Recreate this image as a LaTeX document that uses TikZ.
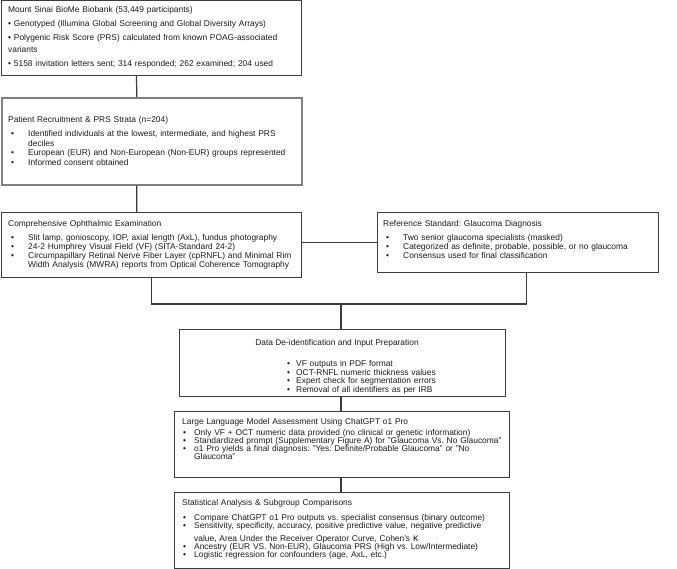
\documentclass[tikz,border=0pt]{standalone}
\usepackage{fontspec}
\setmainfont{Liberation Sans}
\definecolor{boxline}{HTML}{3C3C3C}
\definecolor{ink}{HTML}{1A1A1A}
\newlength{\bulx}
\newlength{\itmind}
\newcommand{\fs}[1]{\fontsize{8.4}{#1}\selectfont\lineskiplimit=-20pt\frenchspacing}
\newcommand{\indents}[2]{\setlength{\bulx}{#1}\setlength{\itmind}{#2}}
\newcommand{\itm}[1]{\par\leftskip=\itmind\noindent\llap{\makebox[\itmind][l]{\hspace{\bulx}\textbullet}}#1\par}
\tikzset{
  box/.style={draw=boxline, line width=1.3pt, anchor=north west, inner sep=0pt},
  txt/.style={anchor=base west, inner sep=0pt, align=left, text width=#1, text=ink},
  link/.style={draw=boxline, line width=1.2pt},
}
\begin{document}
\begin{tikzpicture}[x=1pt, y=-1pt]
  \useasboundingbox (0,0) rectangle (677,569);
  % boxes
  \node[box, line width=0.9pt, minimum width=300pt, minimum height=74.5pt] (biobank) at (1,0.5) {};
  \node[box, draw=gray, line width=1.7pt, minimum width=300pt, minimum height=87pt] (recruit) at (1,97) {};
  \node[box, minimum width=300pt, minimum height=65pt] (exam) at (1,212) {};
  \node[box, minimum width=281pt, minimum height=60pt] (ref) at (377,212) {};
  \node[box, minimum width=326pt, minimum height=67pt] (prep) at (179,329) {};
  \node[box, minimum width=335pt, minimum height=66pt] (llm) at (174,411) {};
  \node[box, minimum width=335pt, minimum height=76pt] (stats) at (174,492) {};

  % texts
  \node[txt=300pt, font=\fs{12}] (biobanktxt) at (8,13) {\setlength{\parskip}{2pt}%
    Mount Sinai BioMe Biobank (53,449 participants)\par
    \textbullet\ Genotyped (Illumina Global Screening and Global Diversity Arrays)\par
    \textbullet\ Polygenic Risk Score (PRS) calculated from known POAG-associated\newline variants\par
    \textbullet\ 5158 invitation letters sent; 314 responded; 262 examined; 204 used\par};
  \node[txt=300pt, font=\fs{9.4}] (recruittxt) at (8,123) {\indents{3pt}{20pt}%
    Patient Recruitment \& PRS Strata (n=204)\par\vspace{4.5pt}
    \itm{Identified individuals at the lowest, intermediate, and highest PRS\newline deciles}
    \itm{European (EUR) and Non-European (Non-EUR) groups represented}
    \itm{Informed consent obtained}};
  \node[txt=300pt, font=\fs{9}] (examtxt) at (8,227) {\indents{3pt}{20pt}%
    Comprehensive Ophthalmic Examination\par\vspace{5pt}
    \itm{Slit lamp, gonioscopy, IOP, axial length (AxL), fundus photography}
    \itm{24-2 Humphrey Visual Field (VF) (SITA-Standard 24-2)}
    \itm{Circumpapillary Retinal Nerve Fiber Layer (cpRNFL) and Minimal Rim\newline Width Analysis (MWRA) reports from Optical Coherence Tomography}};
  \node[txt=280pt, font=\fs{9}] (reftxt) at (383,227) {\indents{3pt}{20pt}%
    Reference Standard: Glaucoma Diagnosis\par\vspace{5pt}
    \itm{Two senior glaucoma specialists (masked)}
    \itm{Categorized as definite, probable, possible, or no glaucoma}
    \itm{Consensus used for final classification}};
  \node[anchor=base, inner sep=0pt, text=ink, font=\fs{9}] (preptitle) at (337,345)
    {Data De-identification and Input Preparation};
  \node[txt=200pt, font=\fs{8.6}] (preptxt) at (287,358) {\indents{0pt}{9pt}%
    \itm{VF outputs in PDF format}
    \itm{OCT-RNFL numeric thickness values}
    \itm{Expert check for segmentation errors}
    \itm{Removal of all identifiers as per IRB}};
  \node[txt=340pt, font=\fs{8}] (llmtxt) at (182,424) {\indents{1pt}{12pt}%
    Large Language Model Assessment Using ChatGPT o1 Pro\par\vspace{3pt}
    \itm{Only VF + OCT numeric data provided (no clinical or genetic information)}
    \itm{Standardized prompt (Supplementary Figure A) for "Glaucoma Vs. No Glaucoma"}
    \itm{o1 Pro yields a final diagnosis: "Yes: Definite/Probable Glaucoma" or "No\newline Glaucoma"}};
  \node[txt=340pt, font=\fs{8}] (statstxt) at (182,505) {\indents{1pt}{12pt}%
    Statistical Analysis \& Subgroup Comparisons\par\vspace{7pt}
    \itm{Compare ChatGPT o1 Pro outputs vs. specialist consensus (binary outcome)}
    \itm{Sensitivity, specificity, accuracy, positive predictive value, negative predictive\vadjust{\vskip 5pt}\newline value, Area Under the Receiver Operator Curve, Cohen's {\fontsize{10.5}{8}\selectfont κ}}
    \itm{Ancestry (EUR VS. Non-EUR), Glaucoma PRS (High vs. Low/Intermediate)}
    \itm{Logistic regression for confounders (age, AxL, etc.)}};

  % links
  \coordinate (split) at (341,304);
  \draw[link] ([xshift=-15pt]biobank.south) -- ([xshift=-15pt]recruit.north);
  \draw[link] ([xshift=-15pt]recruit.south) -- ([xshift=-15pt]exam.north);
  \draw[link] (exam.east |- ref.west) -- (ref.west);
  \draw[link] (exam.south) |- (split) -| ([xshift=8pt]ref.south);
  \draw[link] (split) -- (split |- prep.north);
  \draw[link] (prep.south -| split) -- (split |- llm.north);
  \draw[link] (llm.south -| split) -- (split |- stats.north);
\end{tikzpicture}
\end{document}
